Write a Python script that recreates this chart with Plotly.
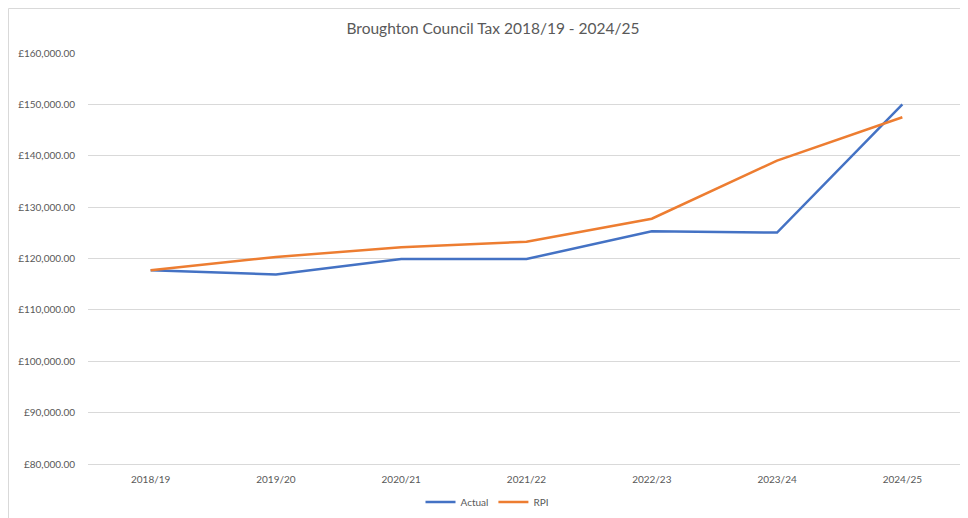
import plotly.graph_objects as go

categories = ["2018/19", "2019/20", "2020/21", "2021/22", "2022/23", "2023/24", "2024/25"]
actual = [117700, 116900, 119900, 119900, 125300, 125050, 150000]
rpi = [117700, 120300, 122200, 123250, 127750, 139050, 147500]
y_ticks = [80000, 90000, 100000, 110000, 120000, 130000, 140000, 150000, 160000]
y_tick_labels = ["£{:,.2f}".format(v) for v in y_ticks]

# the page body has an 8px margin, so the figure starts at (8, 8) in the window
OFF = 8
W, H = 968 - OFF, 518 - OFF
L, T = 88 - OFF, 53 - OFF
R, B = 3, 54
pw, ph = W - L - R, H - T - B

FONT = "Lato, 'Open Sans', sans-serif"
GREY = "#595959"

fig = go.Figure()
fig.add_trace(go.Scatter(x=categories, y=actual, name="Actual", mode="lines",
                         line=dict(color="#4472C4", width=2.5)))
fig.add_trace(go.Scatter(x=categories, y=rpi, name="RPI", mode="lines",
                         line=dict(color="#ED7D31", width=2.5)))

# chart frame (light border at top and left)
fig.add_shape(type="rect", xref="paper", yref="paper",
              x0=(0.5 - L) / pw, x1=(W + 20 - L) / pw,
              y0=(H - B - (H + 20)) / ph, y1=(H - B - 0.5) / ph,
              line=dict(color="#d9d9d9", width=1), fillcolor="rgba(0,0,0,0)", layer="below")

fig.update_layout(
    width=W, height=H,
    margin=dict(l=L, r=R, t=T, b=B, autoexpand=False),
    paper_bgcolor="white", plot_bgcolor="white",
    font=dict(family=FONT, color=GREY, size=10),
    title=dict(text="Broughton Council Tax 2018/19 - 2024/25", x=(493 - OFF) / W, xanchor="center",
               y=1 - (29 - OFF) / H, yanchor="middle", font=dict(size=15.5, color=GREY, family=FONT)),
    showlegend=True,
    legend=dict(orientation="h", x=(487 - OFF - L) / pw, xanchor="center",
                y=(H - B - (502 - OFF)) / ph, yanchor="middle",
                font=dict(size=10, color=GREY), itemwidth=30, tracegroupgap=0),
    xaxis=dict(type="category", range=[-0.5, len(categories) - 0.5], showgrid=False,
               showline=True, linecolor="#d9d9d9", linewidth=1, ticks="",
               tickfont=dict(size=10, color=GREY), ticklabelstandoff=6, fixedrange=True,
               automargin=False),
    yaxis=dict(range=[80000, 160000], tickmode="array", tickvals=y_ticks, ticktext=y_tick_labels,
               showgrid=True, gridcolor="#d9d9d9", gridwidth=1, zeroline=False,
               showline=False, ticks="", tickfont=dict(size=10, color=GREY),
               ticklabelstandoff=12, fixedrange=True, automargin=False),
)

fig.write_html("out.html")
